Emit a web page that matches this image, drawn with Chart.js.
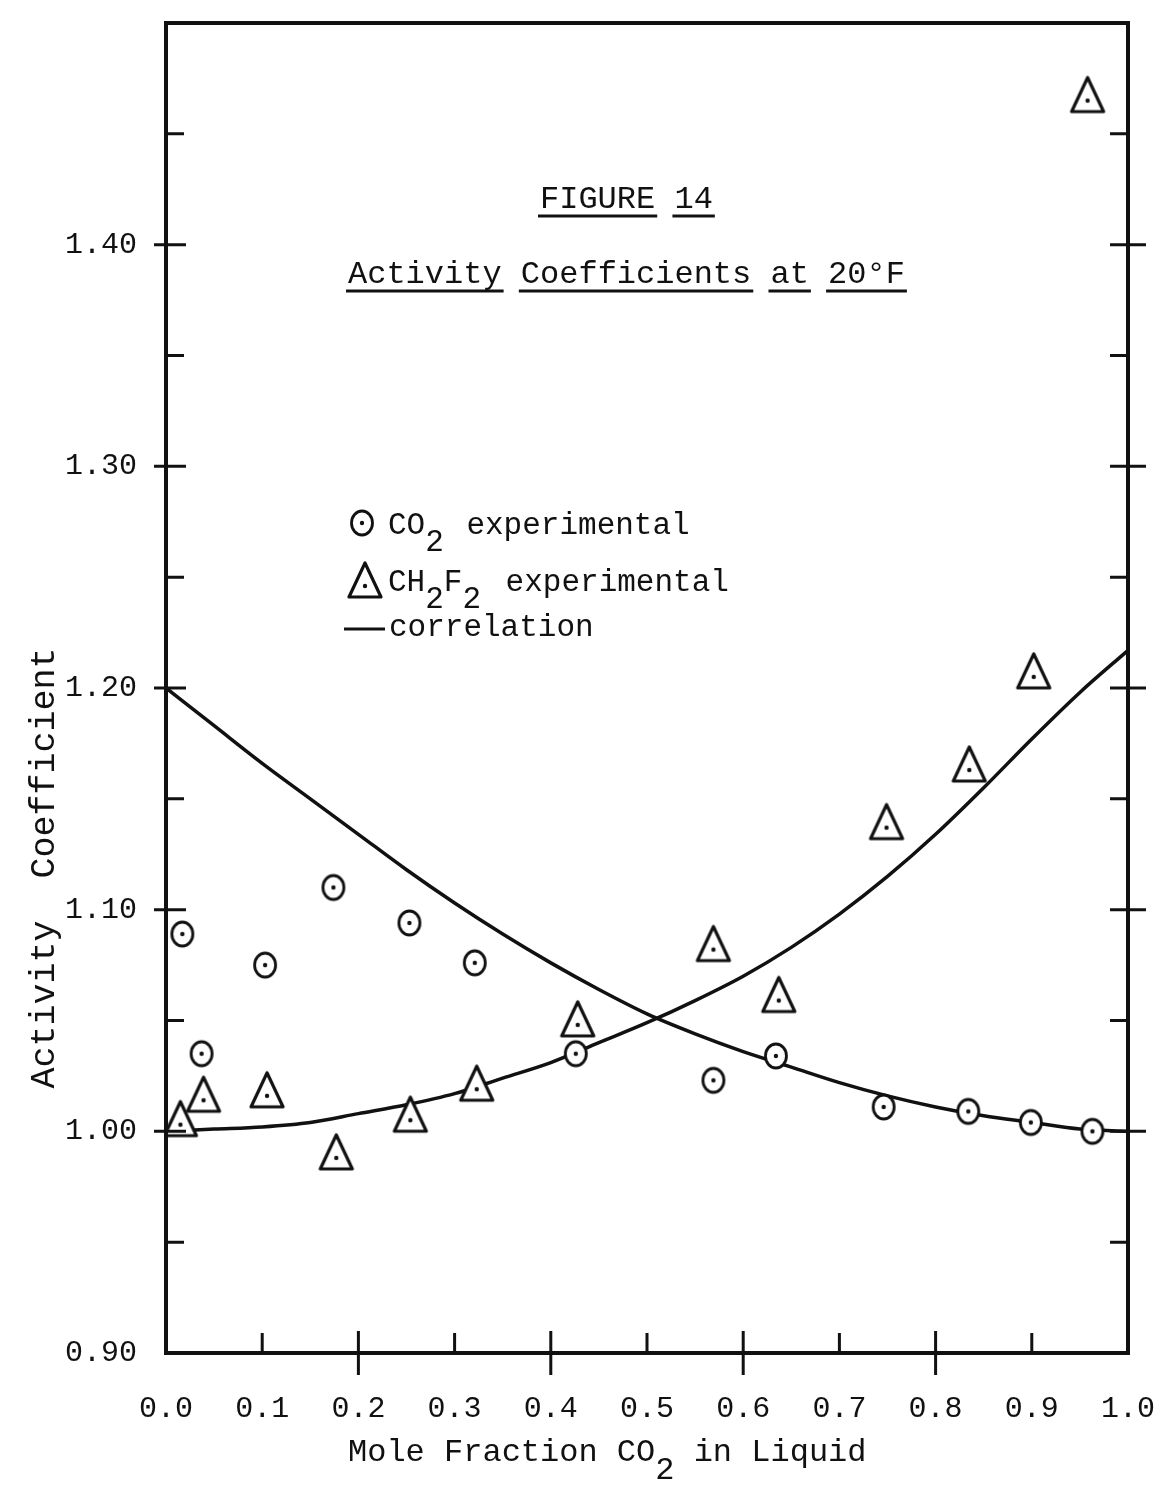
<!DOCTYPE html>
<html>
<head>
<meta charset="utf-8">
<script src="https://cdn.jsdelivr.net/npm/chart.js@4.4.1/dist/chart.umd.min.js"></script>
<style>
  html, body { margin: 0; padding: 0; background: #fff; }
</style>
</head>
<body>
<canvas id="chart" width="1164" height="1485"></canvas>
<script>
// experimental points
const co2X = [0.017, 0.037, 0.103, 0.174, 0.253, 0.321, 0.426, 0.569, 0.634, 0.746, 0.834, 0.899, 0.963];
const co2Y = [1.089, 1.035, 1.075, 1.110, 1.094, 1.076, 1.035, 1.023, 1.034, 1.011, 1.009, 1.004, 1.000];

const ch2f2X = [0.015, 0.039, 0.105, 0.177, 0.254, 0.323, 0.428, 0.569, 0.637, 0.749, 0.835, 0.902, 0.958];
const ch2f2Y = [1.003, 1.014, 1.016, 0.988, 1.005, 1.019, 1.048, 1.082, 1.059, 1.137, 1.163, 1.205, 1.465];

// correlation curves, read at every 0.05
const curveX = [0, 0.05, 0.10, 0.15, 0.20, 0.25, 0.30, 0.35, 0.40, 0.45, 0.50,
                0.55, 0.60, 0.65, 0.70, 0.75, 0.80, 0.85, 0.90, 0.95, 1.00];
const co2Curve = [1.200, 1.183, 1.166, 1.150, 1.134, 1.118, 1.103, 1.089, 1.076, 1.064, 1.053,
                  1.044, 1.036, 1.029, 1.022, 1.016, 1.011, 1.007, 1.004, 1.001, 1.000];
const ch2f2Curve = [1.000, 1.001, 1.002, 1.004, 1.008, 1.012, 1.017, 1.024, 1.031, 1.040, 1.049,
                    1.059, 1.070, 1.083, 1.098, 1.115, 1.134, 1.155, 1.177, 1.198, 1.217];

const yMajorTicks = [1.00, 1.10, 1.20, 1.30, 1.40];
const yMinorTicks = [0.95, 1.05, 1.15, 1.25, 1.35, 1.45];
const xMajorTicks = [0.2, 0.4, 0.6, 0.8];
const xMinorTicks = [0.1, 0.3, 0.5, 0.7, 0.9];

const INK = '#111';
const FONT = "'Liberation Mono', 'DejaVu Sans Mono', monospace";

function toPoints(xs, ys) {
    return xs.map((x, i) => ({ x: x, y: ys[i] }));
}

function makeCircle() {
    const c = document.createElement('canvas');
    c.width = 30; c.height = 32;
    const ctx = c.getContext('2d');
    ctx.fillStyle = '#fff';
    ctx.strokeStyle = INK;
    ctx.lineWidth = 2.8;
    ctx.beginPath();
    ctx.ellipse(15, 16, 10.5, 12, 0, 0, Math.PI * 2);
    ctx.fill();
    ctx.stroke();
    ctx.fillStyle = INK;
    ctx.beginPath();
    ctx.arc(15, 16, 2.2, 0, Math.PI * 2);
    ctx.fill();
    return c;
}

function makeTriangle() {
    const c = document.createElement('canvas');
    c.width = 42; c.height = 58;
    const ctx = c.getContext('2d');
    const cx = 21, cy = 29;
    ctx.fillStyle = '#fff';
    ctx.strokeStyle = INK;
    ctx.lineWidth = 3.2;
    ctx.lineJoin = 'round';
    ctx.beginPath();
    ctx.moveTo(cx, cy - 23);
    ctx.lineTo(cx + 16, cy + 11);
    ctx.lineTo(cx - 16, cy + 11);
    ctx.closePath();
    ctx.fill();
    ctx.stroke();
    ctx.fillStyle = INK;
    ctx.beginPath();
    ctx.arc(cx, cy, 2.2, 0, Math.PI * 2);
    ctx.fill();
    return c;
}

const circleImg = makeCircle();
const triangleImg = makeTriangle();

// text pieces with a lowered "2"
function drawPieces(ctx, pieces, x, y, size) {
    ctx.font = size + 'px ' + FONT;
    ctx.textAlign = 'left';
    ctx.textBaseline = 'alphabetic';
    let cx = x;
    pieces.forEach(p => {
        ctx.fillText(p.t, cx, y + (p.sub ? Math.round(size * 0.55) : 0));
        cx += ctx.measureText(p.t).width + (p.gap || 0);
    });
}

function drawUnderlined(ctx, words, x, y, size) {
    ctx.font = size + 'px ' + FONT;
    ctx.textAlign = 'left';
    ctx.textBaseline = 'alphabetic';
    const space = ctx.measureText(' ').width;
    let cx = x;
    ctx.lineWidth = 3;
    words.forEach(w => {
        const wd = ctx.measureText(w).width;
        ctx.fillText(w, cx, y);
        ctx.beginPath();
        ctx.moveTo(cx - 2, y + 8);
        ctx.lineTo(cx + wd + 2, y + 8);
        ctx.stroke();
        cx += wd + space;
    });
}

const decorPlugin = {
    id: 'decor',
    afterDatasetsDraw(chart) {
        const ctx = chart.ctx;
        const area = chart.chartArea;
        const xs = chart.scales.x;
        const ys = chart.scales.y;
        ctx.save();
        ctx.strokeStyle = INK;
        ctx.fillStyle = INK;

        // frame
        ctx.lineWidth = 4;
        ctx.strokeRect(area.left, area.top, area.right - area.left, area.bottom - area.top);

        // tick marks
        ctx.lineWidth = 3;
        ctx.beginPath();
        yMajorTicks.forEach(v => {
            const py = ys.getPixelForValue(v);
            ctx.moveTo(area.left - 12, py); ctx.lineTo(area.left + 20, py);
            ctx.moveTo(area.right - 18, py); ctx.lineTo(area.right + 18, py);
        });
        yMinorTicks.forEach(v => {
            const py = ys.getPixelForValue(v);
            ctx.moveTo(area.left, py); ctx.lineTo(area.left + 18, py);
            ctx.moveTo(area.right - 18, py); ctx.lineTo(area.right, py);
        });
        xMajorTicks.forEach(v => {
            const px = xs.getPixelForValue(v);
            ctx.moveTo(px, area.bottom - 22); ctx.lineTo(px, area.bottom + 22);
        });
        xMinorTicks.forEach(v => {
            const px = xs.getPixelForValue(v);
            ctx.moveTo(px, area.bottom - 20); ctx.lineTo(px, area.bottom);
        });
        ctx.stroke();

        // titles
        drawUnderlined(ctx, ['FIGURE', '14'], 540, 208, 32);
        drawUnderlined(ctx, ['Activity', 'Coefficients', 'at', '20°F'], 348, 283, 32);

        // legend
        ctx.drawImage(circleImg, 362 - 15, 523 - 16);
        drawPieces(ctx, [{ t: 'CO' }, { t: '2', sub: true, gap: 4 }, { t: ' experimental' }], 388, 534, 31);
        ctx.drawImage(triangleImg, 365 - 21, 586 - 29);
        drawPieces(ctx, [{ t: 'CH' }, { t: '2', sub: true }, { t: 'F' }, { t: '2', sub: true, gap: 6 }, { t: ' experimental' }], 388, 591, 31);
        ctx.lineWidth = 3;
        ctx.beginPath();
        ctx.moveTo(344, 629); ctx.lineTo(385, 629);
        ctx.stroke();
        drawPieces(ctx, [{ t: 'correlation' }], 389, 636, 31);

        // axis titles
        drawPieces(ctx, [{ t: 'Mole Fraction CO' }, { t: '2', sub: true }, { t: ' in Liquid' }], 348, 1461, 32);
        ctx.save();
        ctx.translate(54, 868);
        ctx.rotate(-Math.PI / 2);
        ctx.font = '35px ' + FONT;
        ctx.textAlign = 'center';
        ctx.textBaseline = 'alphabetic';
        ctx.fillText('Activity  Coefficient', 0, 0);
        ctx.restore();

        ctx.restore();
    }
};

new Chart(document.getElementById('chart'), {
    type: 'line',
    data: {
        datasets: [
            {
                label: 'CO2 experimental',
                type: 'scatter',
                data: toPoints(co2X, co2Y),
                pointStyle: circleImg,
                pointRadius: 12,
                order: 1
            },
            {
                label: 'CH2F2 experimental',
                type: 'scatter',
                data: toPoints(ch2f2X, ch2f2Y),
                pointStyle: triangleImg,
                pointRadius: 14,
                order: 1
            },
            {
                label: 'correlation CO2',
                data: toPoints(curveX, co2Curve),
                borderColor: INK,
                borderWidth: 3.5,
                pointRadius: 0,
                cubicInterpolationMode: 'monotone',
                order: 2
            },
            {
                label: 'correlation CH2F2',
                data: toPoints(curveX, ch2f2Curve),
                borderColor: INK,
                borderWidth: 3.5,
                pointRadius: 0,
                cubicInterpolationMode: 'monotone',
                order: 2
            }
        ]
    },
    options: {
        responsive: false,
        animation: false,
        devicePixelRatio: 1,
        layout: { padding: { top: 23, right: 36, left: 0, bottom: 0 } },
        plugins: {
            legend: { display: false },
            tooltip: { enabled: false }
        },
        scales: {
            x: {
                type: 'linear',
                min: 0,
                max: 1,
                border: { display: false },
                grid: { display: false },
                ticks: {
                    stepSize: 0.1,
                    autoSkip: false,
                    maxRotation: 0,
                    padding: 30,
                    color: INK,
                    font: { family: FONT, size: 30 },
                    callback: v => v.toFixed(1)
                },
                afterFit: scale => {
                    scale.height = 132;
                    scale.paddingLeft = 0;
                    scale.paddingRight = 0;
                }
            },
            y: {
                type: 'linear',
                min: 0.9,
                max: 1.5,
                border: { display: false },
                grid: { display: false },
                ticks: {
                    stepSize: 0.05,
                    autoSkip: false,
                    padding: 21,
                    color: INK,
                    font: { family: FONT, size: 30 },
                    callback: v => {
                        const h = Math.round(v * 100);
                        return (h % 10 === 0 && h < 150) ? (h / 100).toFixed(2) : '';
                    }
                },
                afterFit: scale => {
                    scale.width = 166;
                    scale.paddingTop = 0;
                    scale.paddingBottom = 0;
                }
            }
        }
    },
    plugins: [decorPlugin]
});
</script>
</body>
</html>
